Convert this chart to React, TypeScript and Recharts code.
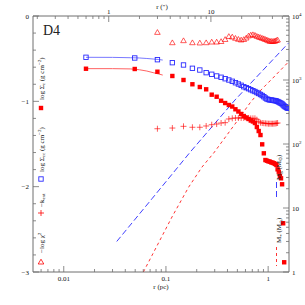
import React from 'react';
import { ComposedChart, Scatter, XAxis, YAxis } from 'recharts';

// ---- data (radii in pc; left axis: log values; right axis: mass in Msun) ----
const radiusPc = [0.0165, 0.0495, 0.0825, 0.1155, 0.1485, 0.1815, 0.2145, 0.2475, 0.2805, 0.3135, 0.3465, 0.3795, 0.4125, 0.4455, 0.4785, 0.5115, 0.5445, 0.5775, 0.6105, 0.6435, 0.6765, 0.7095, 0.7425, 0.7755, 0.8085, 0.8415, 0.8745, 0.9075, 0.9405, 0.9735, 1.0065, 1.0395, 1.0725, 1.1055, 1.1385, 1.1715, 1.2045, 1.2375, 1.2705, 1.3035, 1.3365, 1.3695, 1.4025, 1.4355, 1.4685, 1.5015, 1.5345, 1.5675];

const logSigmaRed = [-0.618, -0.621, -0.653, -0.703, -0.75, -0.8, -0.832, -0.859, -0.922, -0.946, -0.993, -1.02, -1.043, -1.061, -1.093, -1.119, -1.148, -1.172, -1.19, -1.207, -1.225, -1.236, -1.254, -1.301, -1.348, -1.395, -1.504, -1.609, -1.688, -1.696, -1.703, -1.707, -1.715, -1.719, -1.726, -1.734, -1.746, -1.797, -1.825, -1.875, -1.902, -1.972, -2.429, -2.886];

const logSigmaBlue = [-0.484, -0.492, -0.512, -0.547, -0.574, -0.613, -0.633, -0.664, -0.683, -0.703, -0.718, -0.735, -0.75, -0.765, -0.782, -0.797, -0.812, -0.829, -0.84, -0.852, -0.864, -0.875, -0.885, -0.897, -0.908, -0.92, -0.932, -0.946, -0.961, -0.973, -0.979, -0.984, -0.984, -0.988, -0.99, -0.993, -0.996, -1.002, -1.008, -1.016, -1.023, -1.031, -1.043, -1.055, -1.063, -1.07, -1.078, -1.082];

// these two start at the third radius
const negLogChi2 = [-0.192, -0.313, -0.289, -0.313, -0.316, -0.313, -0.305, -0.305, -0.299, -0.275, -0.24, -0.246, -0.261, -0.273, -0.281, -0.275, -0.258, -0.234, -0.223, -0.219, -0.226, -0.238, -0.246, -0.252, -0.261, -0.266, -0.275, -0.281, -0.289, -0.296, -0.296, -0.299, -0.296, -0.293, -0.287, -0.281];
const negKext = [-1.321, -1.313, -1.293, -1.304, -1.304, -1.289, -1.274, -1.266, -1.254, -1.25, -1.207, -1.199, -1.195, -1.195, -1.195, -1.195, -1.195, -1.195, -1.199, -1.199, -1.199, -1.215, -1.235, -1.25, -1.254, -1.256, -1.258, -1.26, -1.262, -1.262, -1.262, -1.262, -1.262, -1.26, -1.257, -1.254];

const fitRadiusPc = [0.0165, 0.03, 0.045, 0.055, 0.065, 0.075, 0.085, 0.093];
const fitRed = [-0.617, -0.617, -0.62, -0.63, -0.645, -0.664, -0.68, -0.692];
const fitBlue = [-0.484, -0.485, -0.489, -0.492, -0.498, -0.504, -0.51, -0.516];

const gasMassRadiusPc = [0.033, 0.0731, 0.173, 0.4737, 1.573];
const gasMassMsun = [3.0, 14.0, 75, 487, 3745];

const starMassRadiusPc = [0.0601, 0.0731, 0.1159, 0.1671, 0.2254, 0.2933, 0.4737, 0.6639, 0.8315, 1.089, 1.579];
const starMassMsun = [1, 1.82, 7.5, 21.3, 43.7, 72.3, 205, 437, 673, 1037, 1910];

const xTicksPc = [0.006, 0.007, 0.008, 0.009, 0.01, 0.02, 0.03, 0.04, 0.05, 0.06, 0.07, 0.08, 0.09, 0.1, 0.2, 0.3, 0.4, 0.5, 0.6, 0.7, 0.8, 0.9, 1];
const xTicksArcsec = [0.2, 0.3, 0.4, 0.5, 0.6, 0.7, 0.8, 0.9, 1, 2, 3, 4, 5, 6, 7, 8, 9, 10, 20, 30, 40, 50];
const yTicksLeft = [-3, -2.8, -2.6, -2.4, -2.2, -2, -1.8, -1.6, -1.4, -1.2, -1, -0.8, -0.6, -0.4, -0.2, 0];
const yTicksRight = [1, 2, 3, 4, 5, 6, 7, 8, 9, 10, 20, 30, 40, 50, 60, 70, 80, 90, 100, 200, 300, 400, 500, 600, 700, 800, 900, 1000, 2000, 3000, 4000, 5000, 6000, 7000, 8000, 9000, 10000];

const domainPc: [number, number] = [0.005, 1.6];
const pcPerArcsec = 0.02754;

// ---- build tables ----
const redSquares = logSigmaRed.map((v, i) => ({ r: radiusPc[i], v }));
const blueSquares = logSigmaBlue.map((v, i) => ({ r: radiusPc[i], v }));
const triangles = negLogChi2.map((v, i) => ({ r: radiusPc[i + 2], v }));
const pluses = negKext.map((v, i) => ({ r: radiusPc[i + 2], v }));
const redFit = fitRed.map((v, i) => ({ r: fitRadiusPc[i], v }));
const blueFit = fitBlue.map((v, i) => ({ r: fitRadiusPc[i], v }));
const gasMass = gasMassMsun.map((m, i) => ({ r: gasMassRadiusPc[i], m }));
const starMass = starMassMsun.map((m, i) => ({ r: starMassRadiusPc[i], m }));

const RED = '#ff0000';
const BLUE = '#2a2aff';
const AXIS = '#6e6e6e';
const TXT = '#111';
const FONT = 'Liberation Serif, Times New Roman, serif';

const isDecade = (v: number) => Math.abs(Math.log10(v) - Math.round(Math.log10(v))) < 1e-6;

const BottomTick = (p: any) => {
  const { x, y, payload } = p;
  const v = payload.value;
  const major = isDecade(v);
  return (
    <g>
      <line x1={x} y1={y} x2={x} y2={y - (major ? 6 : 3)} stroke={AXIS} strokeWidth={0.8} />
      {major && (
        <text x={x} y={y + 8.5} textAnchor="middle" fontSize={7} fontFamily={FONT} fill={TXT} style={{ fill: TXT }}>
          {String(v)}
        </text>
      )}
    </g>
  );
};

const TopTick = (p: any) => {
  const { x, y, payload } = p;
  const v = payload.value;
  const major = isDecade(v);
  return (
    <g>
      <line x1={x} y1={y} x2={x} y2={y + (major ? 6 : 3)} stroke={AXIS} strokeWidth={0.8} />
      {major && (
        <text x={x} y={y - 2.5} textAnchor="middle" fontSize={7} fontFamily={FONT} fill={TXT} style={{ fill: TXT }}>
          {String(v)}
        </text>
      )}
    </g>
  );
};

const LeftTick = (p: any) => {
  const { x, y, payload } = p;
  const v = payload.value;
  const major = Math.abs(v - Math.round(v)) < 1e-6;
  return (
    <g>
      <line x1={x} y1={y} x2={x + (major ? 6 : 3)} y2={y} stroke={AXIS} strokeWidth={0.8} />
      {major && (
        <text x={x - 4} y={y + 2.5} textAnchor="end" fontSize={7} fontFamily={FONT} fill={TXT} style={{ fill: TXT }}>
          {v === 0 ? '0' : '\u2212' + String(Math.abs(Math.round(v)))}
        </text>
      )}
    </g>
  );
};

const RightTick = (p: any) => {
  const { x, y, payload } = p;
  const v = payload.value;
  const major = isDecade(v);
  const e = Math.round(Math.log10(v));
  return (
    <g>
      <line x1={x} y1={y} x2={x - (major ? 6 : 3)} y2={y} stroke={AXIS} strokeWidth={0.8} />
      {major && (
        <text x={x + 3} y={y + 2.5} textAnchor="start" fontSize={7} fontFamily={FONT} fill={TXT} style={{ fill: TXT }}>
          {e === 0 ? '1' : e === 1 ? '10' : (
            <>
              10<tspan dy={-3} fontSize={5}>{e}</tspan>
            </>
          )}
        </text>
      )}
    </g>
  );
};

const RedSquare = (p: any) => <rect x={p.cx - 2.2} y={p.cy - 2.2} width={4.4} height={4.4} fill={RED} />;
const BlueSquare = (p: any) => (
  <rect x={p.cx - 2.2} y={p.cy - 2.2} width={4.4} height={4.4} fill="none" stroke={BLUE} strokeWidth={0.9} />
);
const Triangle = (p: any) => (
  <polygon
    points={`${p.cx},${p.cy - 2.8} ${p.cx - 2.8},${p.cy + 2} ${p.cx + 2.8},${p.cy + 2}`}
    fill="none"
    stroke={RED}
    strokeWidth={0.8}
    strokeOpacity={0.8}
  />
);
const Plus = (p: any) => (
  <g stroke={RED} strokeWidth={0.8} strokeOpacity={0.8}>
    <line x1={p.cx - 3} y1={p.cy} x2={p.cx + 3} y2={p.cy} />
    <line x1={p.cx} y1={p.cy - 3} x2={p.cx} y2={p.cy + 3} />
  </g>
);
const NoShape = () => <g />;

const Sub = ({ children }: any) => (
  <tspan dy={1.8} fontSize={5}>
    {children}
  </tspan>
);

function Overlay() {
  const t = { fontSize: 7, fontFamily: FONT, fill: '#111' } as any;
  const vt = (x: number, y: number, content: any) => (
    <text transform={`translate(${x},${y}) rotate(-90)`} {...t}>
      {content}
    </text>
  );
  return (
    <svg width={305} height={305} style={{ position: 'absolute', left: 0, top: 0, pointerEvents: 'none' }}>
      <text x={43} y={35} fontSize={14} fontFamily={FONT} fill="#222">D4</text>
      <text x={161} y={289} textAnchor="middle" {...t}>r (pc)</text>
      <text x={162} y={9} textAnchor="middle" {...t}>r (″)</text>
      {/* left legend */}
      {vt(43.5, 100, <>log Σ<Sub>c</Sub><tspan dy={-1.8}> (g cm</tspan><tspan dy={-2.5} fontSize={5}>−2</tspan><tspan dy={2.5}>)</tspan></>)}
      <rect x={38.8} y={105.8} width={4.4} height={4.4} fill={RED} />
      {vt(43.5, 172, <>log Σ<Sub>cc</Sub><tspan dy={-1.8}> (g cm</tspan><tspan dy={-2.5} fontSize={5}>−2</tspan><tspan dy={2.5}>)</tspan></>)}
      <rect x={38.8} y={176.8} width={4.4} height={4.4} fill="none" stroke={BLUE} strokeWidth={0.9} />
      {vt(43.5, 207, <>−k<Sub>ext</Sub></>)}
      <g stroke={RED} strokeWidth={0.8}>
        <line x1={38} y1={213} x2={44} y2={213} />
        <line x1={41} y1={210} x2={41} y2={216} />
      </g>
      {vt(43.5, 253, <>−log χ<tspan dy={-2.5} fontSize={5}>2</tspan></>)}
      <polygon points="41,259.2 38.2,264 43.8,264" fill="none" stroke={RED} strokeWidth={0.8} />
      {/* right legend */}
      {vt(280.5, 180, <>M<Sub>g</Sub><tspan dy={-1.8}> (M</tspan><Sub>⊙</Sub><tspan dy={-1.8}>)</tspan></>)}
      <line x1={276.5} y1={182} x2={276.5} y2={200} stroke={BLUE} strokeWidth={0.9} strokeDasharray="6 3" />
      {vt(281, 243, <>M<Sub>*</Sub><tspan dy={-1.8}> (M</tspan><Sub>⊙</Sub><tspan dy={-1.8}>)</tspan></>)}
      <line x1={276.5} y1={247} x2={276.5} y2={266} stroke={RED} strokeWidth={0.8} strokeDasharray="3 3" />
    </svg>
  );
}

export default function App() {
  return (
    <div style={{ position: 'absolute', left: 0, top: 0, width: 305, height: 305, background: '#fff' }}>
      <ComposedChart width={305} height={305} margin={{ top: 0, right: 0, bottom: 0, left: 0 }}>
        <XAxis
          xAxisId="b"
          dataKey="r"
          type="number"
          scale="log"
          domain={domainPc}
          allowDataOverflow
          orientation="bottom"
          height={33}
          ticks={xTicksPc}
          interval={0}
          tickSize={0}
          tickMargin={0}
          tickLine={false}
          tick={<BottomTick />}
          axisLine={{ stroke: AXIS, strokeWidth: 1 }}
        />
        <XAxis
          xAxisId="t"
          dataKey="r"
          type="number"
          scale="log"
          domain={[domainPc[0] / pcPerArcsec, domainPc[1] / pcPerArcsec]}
          allowDataOverflow
          orientation="top"
          height={16}
          ticks={xTicksArcsec}
          interval={0}
          tickSize={0}
          tickMargin={0}
          tickLine={false}
          tick={<TopTick />}
          axisLine={{ stroke: AXIS, strokeWidth: 1 }}
        />
        <YAxis
          yAxisId="l"
          dataKey="v"
          type="number"
          domain={[-3, 0]}
          allowDataOverflow
          orientation="left"
          width={33}
          ticks={yTicksLeft}
          interval={0}
          tickSize={0}
          tickMargin={0}
          tickLine={false}
          tick={<LeftTick />}
          axisLine={{ stroke: AXIS, strokeWidth: 1 }}
        />
        <YAxis
          yAxisId="r"
          dataKey="m"
          type="number"
          scale="log"
          domain={[1, 10000]}
          allowDataOverflow
          orientation="right"
          width={16}
          ticks={yTicksRight}
          interval={0}
          tickSize={0}
          tickMargin={0}
          tickLine={false}
          tick={<RightTick />}
          axisLine={{ stroke: AXIS, strokeWidth: 1 }}
        />
        <Scatter xAxisId="b" yAxisId="r" data={gasMass} dataKey="m" shape={<NoShape />} line={{ stroke: BLUE, strokeWidth: 0.9, strokeDasharray: '6 3' }} isAnimationActive={false} />
        <Scatter xAxisId="b" yAxisId="r" data={starMass} dataKey="m" shape={<NoShape />} line={{ stroke: RED, strokeWidth: 0.8, strokeDasharray: '3 3' }} isAnimationActive={false} />
        <Scatter xAxisId="b" yAxisId="l" data={blueFit} dataKey="v" shape={<NoShape />} line={{ stroke: '#6a6aff', strokeWidth: 0.9 }} isAnimationActive={false} />
        <Scatter xAxisId="b" yAxisId="l" data={redFit} dataKey="v" shape={<NoShape />} line={{ stroke: '#ff5050', strokeWidth: 0.9 }} isAnimationActive={false} />
        <Scatter xAxisId="b" yAxisId="l" data={triangles} dataKey="v" shape={<Triangle />} isAnimationActive={false} />
        <Scatter xAxisId="b" yAxisId="l" data={pluses} dataKey="v" shape={<Plus />} isAnimationActive={false} />
        <Scatter xAxisId="b" yAxisId="l" data={blueSquares} dataKey="v" shape={<BlueSquare />} isAnimationActive={false} />
        <Scatter xAxisId="b" yAxisId="l" data={redSquares} dataKey="v" shape={<RedSquare />} isAnimationActive={false} />
      </ComposedChart>
      <Overlay />
    </div>
  );
}
